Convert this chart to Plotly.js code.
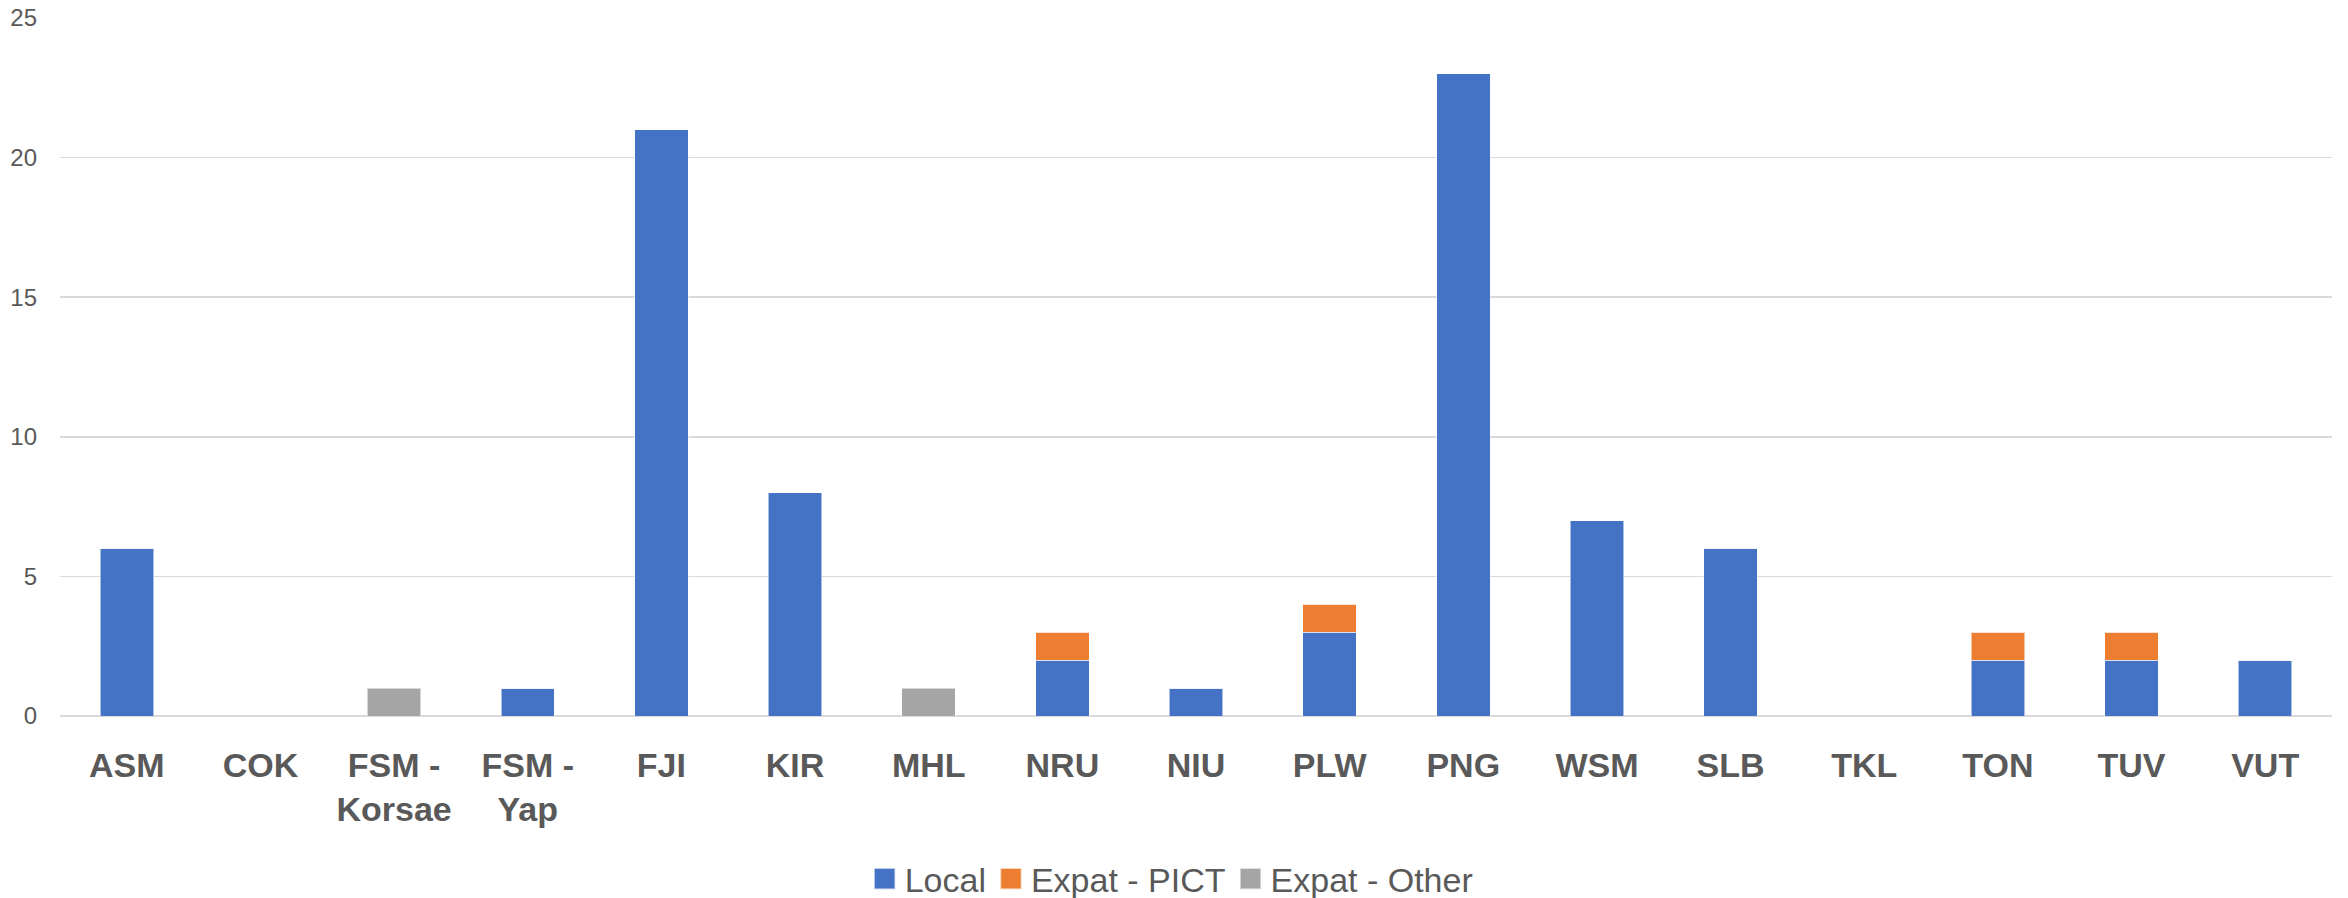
<!DOCTYPE html>
<html>
<head>
<meta charset="utf-8">
<script src="https://cdn.plot.ly/plotly-3.0.1.min.js"></script>
<style>
  html, body { margin: 0; padding: 0; background: #ffffff; }
  #chart { width: 2348px; height: 898px; }
</style>
</head>
<body>
<div id="chart"></div>
<script>
// Categories (tick labels)
const categories = ["ASM", "COK", "FSM -<br>Korsae", "FSM -<br>Yap", "FJI", "KIR", "MHL", "NRU", "NIU", "PLW", "PNG", "WSM", "SLB", "TKL", "TON", "TUV", "VUT"];

// Series values
const localValues      = [6, 0, 0, 1, 21, 8, 0, 2, 1, 3, 23, 7, 6, 0, 2, 2, 2];
const expatPictValues  = [0, 0, 0, 0, 0, 0, 0, 1, 0, 1, 0, 0, 0, 0, 1, 1, 0];
const expatOtherValues = [0, 0, 1, 0, 0, 0, 1, 0, 0, 0, 0, 0, 0, 0, 0, 0, 0];

const seriesNames = ["Local", "Expat - PICT", "Expat - Other"];
const yTicks = [0, 5, 10, 15, 20, 25];

const FONT = "'Liberation Sans Narrow', 'Liberation Sans', Arial, sans-serif";
const TEXT = "#595959";
const edge = { color: "rgba(255,255,255,0.55)", width: 1 };

const traces = [
  { type: "bar", name: seriesNames[0], x: categories, y: localValues,
    marker: { color: "#4472C4", line: edge } },
  { type: "bar", name: seriesNames[1], x: categories, y: expatPictValues,
    marker: { color: "#ED7D31", line: edge } },
  { type: "bar", name: seriesNames[2], x: categories, y: expatOtherValues,
    marker: { color: "#A5A5A5", line: edge } }
];

const layout = {
  width: 2348, height: 898,
  margin: { l: 60, r: 16, t: 18, b: 182, autoexpand: false },
  paper_bgcolor: "#ffffff", plot_bgcolor: "#ffffff",
  barmode: "stack",
  bargap: 0.6,
  hovermode: false,
  font: { family: FONT, color: TEXT },
  xaxis: {
    type: "category",
    automargin: false,
    tickfont: { family: FONT, size: 34, color: TEXT, weight: "bold" },
    showgrid: false, zeroline: false, showline: false,
    ticks: "", ticklabelstandoff: 26, fixedrange: true
  },
  yaxis: {
    range: [0, 25],
    automargin: false,
    tickvals: yTicks,
    tickfont: { family: FONT, size: 24, color: TEXT },
    showgrid: true, gridcolor: "#D9D9D9", gridwidth: 1.5,
    zeroline: true, zerolinecolor: "#D9D9D9", zerolinewidth: 1.5,
    showline: false, ticks: "", ticklabelstandoff: 22, fixedrange: true
  },
  showlegend: true,
  legend: {
    orientation: "h",
    xref: "container", yref: "container",
    x: 0.499, xanchor: "center",
    y: 0.021, yanchor: "middle",
    font: { family: FONT, size: 34, color: TEXT },
    traceorder: "normal",
    itemclick: false, itemdoubleclick: false
  }
};

Plotly.newPlot("chart", traces, layout, { displayModeBar: false, staticPlot: true }).then(function (gd) {
  gd.querySelectorAll(".legend .legendpoints path").forEach(function (p) {
    const t = p.getAttribute("transform") || "";
    p.setAttribute("transform", t + " scale(1.75)");
  });
});
</script>
</body>
</html>
